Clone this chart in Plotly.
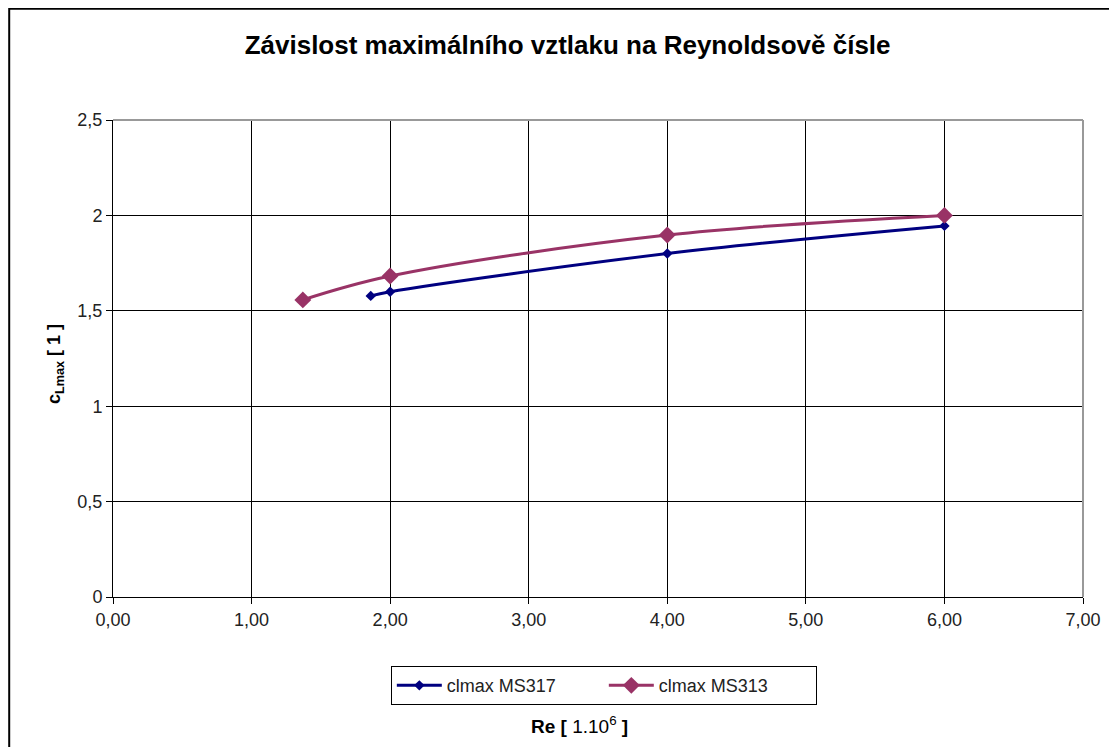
import plotly.graph_objects as go

re_ms317 = [1.86, 2.0, 4.0, 6.0]
cl_ms317 = [1.578, 1.60, 1.80, 1.945]

re_ms313 = [1.37, 2.0, 4.0, 6.0]
cl_ms313 = [1.557, 1.682, 1.897, 2.0]

fig = go.Figure()
fig.add_trace(go.Scatter(x=re_ms317, y=cl_ms317, mode='lines+markers', name='clmax MS317',
                         line=dict(color='#000080', width=3, shape='spline'),
                         marker=dict(symbol='diamond', size=8, color='#000080')))
fig.add_trace(go.Scatter(x=re_ms313, y=cl_ms313, mode='lines+markers', name='clmax MS313',
                         line=dict(color='#993366', width=3, shape='spline'),
                         marker=dict(symbol='diamond', size=13, color='#993366')))

font = 'Liberation Sans, Arial, sans-serif'
fig.update_layout(
    width=1117, height=747,
    margin=dict(l=105, r=42, t=112, b=158),
    paper_bgcolor='white', plot_bgcolor='white',
    separators=', ',
    font=dict(family=font, size=18, color='#222222'),
    title=dict(text='<b>Závislost maximálního vztlaku na Reynoldsově čísle</b>',
               x=0.501, xanchor='center', y=0.95, yanchor='middle',
               font=dict(size=26, color='black')),
    showlegend=True,
    legend=dict(orientation='h', x=0.506, xanchor='center', y=-0.145, yanchor='top',
                bordercolor='black', borderwidth=1, font=dict(size=18, color='#222222'),
                itemwidth=45, entrywidth=152),
)
fig.update_xaxes(range=[0, 7], dtick=1, tickformat='.2f', showgrid=True, gridcolor='black',
                 gridwidth=1, showline=True, linecolor='black', linewidth=1, mirror=False,
                 ticks='outside', ticklen=6, tickcolor='black', zeroline=False)
fig.update_yaxes(range=[0, 2.5], dtick=0.5, showgrid=True, gridcolor='black', gridwidth=1,
                 showline=True, linecolor='black', linewidth=1, ticks='outside', ticklen=6,
                 tickcolor='black', zeroline=False)

# grey top and right plot edges
fig.add_shape(type='line', xref='paper', yref='paper', x0=0, x1=1, y0=1, y1=1,
              line=dict(color='#999999', width=2))
fig.add_shape(type='line', xref='paper', yref='paper', x0=1, x1=1, y0=0, y1=1,
              line=dict(color='#999999', width=2))
# outer chart border
fig.add_shape(type='rect', xref='paper', yref='paper', x0=-0.107, x1=1.032, y0=-0.36, y1=1.233,
              line=dict(color='black', width=2))

fig.add_annotation(text='<b>c<sub>Lmax</sub> [ 1 ]</b>', xref='paper', yref='paper',
                   x=-0.073, y=0.488, textangle=-90, showarrow=False,
                   font=dict(size=18, color='black'))
fig.add_annotation(text='<b>Re [</b> 1.10<sup>6</sup> <b>]</b>', xref='paper', yref='paper',
                   x=0.481, y=-0.298, showarrow=False, font=dict(size=19, color='black'))

fig.write_html('out.html')
